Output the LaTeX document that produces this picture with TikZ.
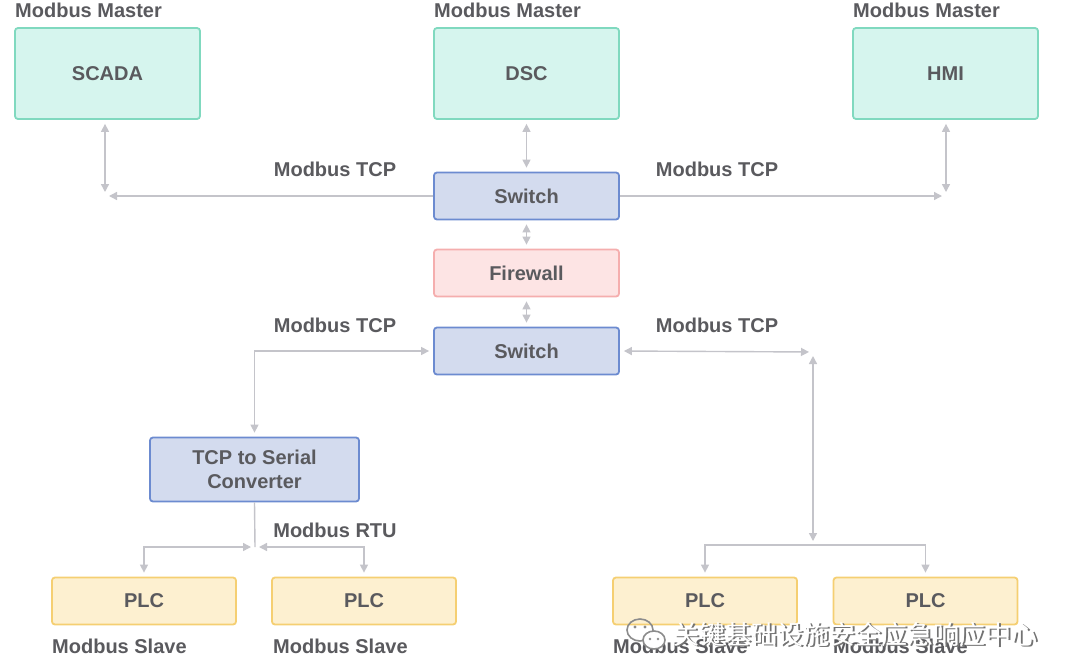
\documentclass[tikz,border=0pt]{standalone}
\usepackage{fontspec}
\setmainfont{Liberation Sans}
\newfontfamily\cjk{Noto Sans CJK SC}
\usetikzlibrary{arrows.meta}
\definecolor{txt}{HTML}{5A5A5E}
\definecolor{arr}{HTML}{C4C4CA}
\definecolor{tealF}{HTML}{D6F5EE}
\definecolor{tealD}{HTML}{80D9BF}
\definecolor{blueF}{HTML}{D3DBEE}
\definecolor{blueD}{HTML}{6C8BD0}
\definecolor{pinkF}{HTML}{FDE4E4}
\definecolor{pinkD}{HTML}{F5AEAE}
\definecolor{yelF}{HTML}{FDF0D0}
\definecolor{yelD}{HTML}{F5CF72}
\tikzset{
  box/.style={rounded corners=3pt, line width=1.8pt, text=txt, font=\bfseries\fontsize{20}{23.5}\selectfont, align=center, inner sep=0pt},
  master/.style={box, fill=tealF, draw=tealD, minimum width=185pt, minimum height=91pt},
  netbox/.style={box, fill=blueF, draw=blueD, minimum width=185pt, minimum height=47pt},
  fwbox/.style={box, fill=pinkF, draw=pinkD, minimum width=185pt, minimum height=47pt},
  convbox/.style={box, fill=blueF, draw=blueD, minimum width=209pt, minimum height=64pt},
  plcbox/.style={box, fill=yelF, draw=yelD, minimum width=184pt, minimum height=47pt},
  lbl/.style={text=txt, font=\bfseries\fontsize{20}{23}\selectfont, inner sep=0pt},
  conn/.style={draw=arr, line width=1.4pt},
  tipend/.style={conn, -{Triangle[length=8pt,width=8pt]}, shorten >=4pt},
  tipboth/.style={conn, {Triangle[length=8pt,width=8pt]}-{Triangle[length=8pt,width=8pt]}, shorten >=4pt, shorten <=4pt},
}
\begin{document}
\begin{tikzpicture}[x=1pt,y=-1pt]
\useasboundingbox (0,0) rectangle (1080,659);
\fill[white] (0,0) rectangle (1080,659);

% masters
\node[master] (scada) at (107.5,73.5) {SCADA};
\node[master] (dsc) at (526.5,73.5) {DSC};
\node[master] (hmi) at (945.5,73.5) {HMI};
\node[lbl, anchor=west] (m1) at (15,10) {Modbus Master};
\node[lbl, anchor=west] (m2) at (434,10) {Modbus Master};
\node[lbl, anchor=west] (m3) at (853,10) {Modbus Master};

% network
\node[netbox] (sw1) at (526.5,196) {Switch};
\node[fwbox] (fw) at (526.5,273) {Firewall};
\node[netbox] (sw2) at (526.5,351) {Switch};
\node[convbox] (conv) at (254.5,469.5) {TCP to Serial\\Converter};

% PLCs
\node[plcbox] (plc1) at (144,601) {PLC};
\node[plcbox] (plc2) at (364,601) {PLC};
\node[plcbox] (plc3) at (705,601) {PLC};
\node[plcbox] (plc4) at (925.5,601) {PLC};
\node[lbl, anchor=west] (s1) at (52,646) {Modbus Slave};
\node[lbl, anchor=west] (s2) at (273,646) {Modbus Slave};
\node[lbl, anchor=west] (s3) at (613,646) {Modbus Slave};
\node[lbl, anchor=west] (s4) at (833,646) {Modbus Slave};

% protocol labels
\node[lbl] (t1) at (335,169) {Modbus TCP};
\node[lbl] (t2) at (717,169) {Modbus TCP};
\node[lbl] (t3) at (335,325) {Modbus TCP};
\node[lbl] (t4) at (717,325) {Modbus TCP};
\node[lbl] (r1) at (335,530) {Modbus RTU};

% junction coordinates
\coordinate (cS) at (105,196);
\coordinate (cH) at (946,196);
\coordinate (cR) at (813,352);
\coordinate (jL) at (255,547);
\coordinate (jR) at (813,545);

% connectors
\draw[tipend] (sw1.west) -- (cS);
\draw[tipboth] (cS) -- (cS |- scada.south);
\draw[tipboth] (dsc.south) -- (sw1.north);
\draw[tipend] (sw1.east) -- (cH);
\draw[tipboth] (cH) -- (cH |- hmi.south);
\draw[tipboth] (sw1.south) -- (fw.north);
\draw[tipboth] (fw.south) -- (sw2.north);
\draw[tipboth] (conv.north) |- (sw2.west);
\draw[tipboth] (sw2.east) -- (cR);
\draw[tipboth] (cR) -- (jR);
\draw[tipend] (jR) -| (plc3.north);
\draw[tipend] (jR) -| (plc4.north);
\draw[conn] (conv.south) -- (jL);
\draw[tipboth] (jL) -| (plc1.north);
\draw[tipboth] (jL) -| (plc2.north);

% watermark
\begin{scope}[line width=1.6pt]
\draw[black!45] (640,630) ellipse (13pt and 11pt);
\draw[black!45, fill=white] (654,640) ellipse (11pt and 9pt);
\fill[black!45] (635,627) circle (1.6pt) (645,627) circle (1.6pt) (650,639) circle (1.3pt) (658,639) circle (1.3pt);
\end{scope}
\node[anchor=west, inner sep=0pt, text=black!55, font=\cjk\fontsize{26}{28}\selectfont] (wm0) at (674.8,635.8) {关键基础设施安全应急响应中心};
\node[anchor=west, inner sep=0pt, text=white, font=\cjk\fontsize{26}{28}\selectfont] (wm) at (673.5,634.5) {关键基础设施安全应急响应中心};
\end{tikzpicture}
\end{document}
